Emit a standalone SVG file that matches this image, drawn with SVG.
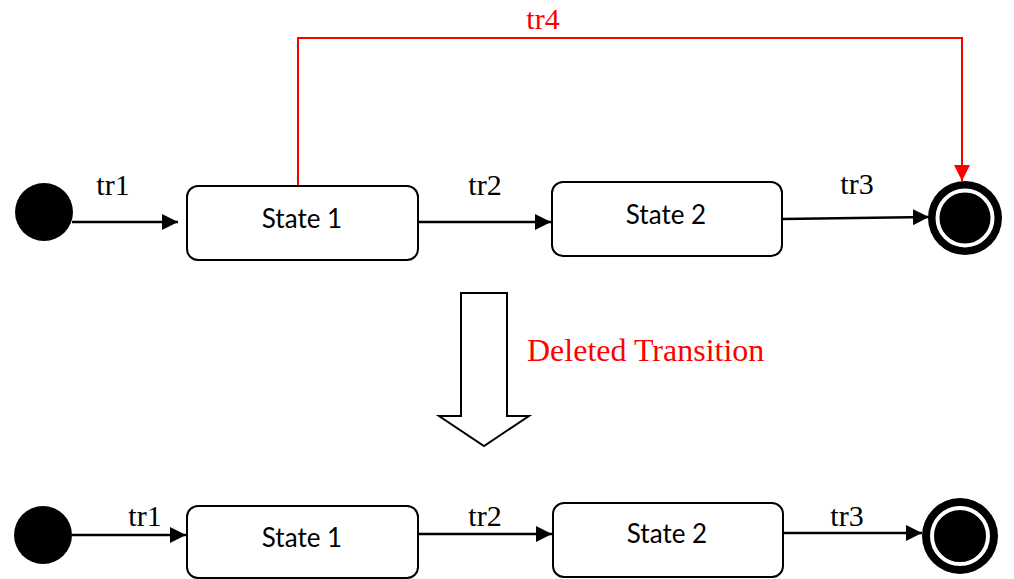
<svg xmlns="http://www.w3.org/2000/svg" width="1014" height="579" viewBox="0 0 1014 579">
<style>
.state{fill:#fff;stroke:#000;stroke-width:2}
.stxt{font-family:Lato,"Open Sans",sans-serif;font-size:26px;fill:#000;text-anchor:middle}
.lbl{font-family:"Liberation Serif","Times New Roman",serif;font-size:30px;fill:#000;text-anchor:middle}
.red{fill:#ff0000}
.conn{stroke:#000;stroke-width:2.5;fill:none}
.rconn{stroke:#ff0000;stroke-width:2;fill:none}
</style>
<defs>
<marker id="ah" viewBox="0 0 16 16" refX="16" refY="8" markerWidth="16" markerHeight="16" markerUnits="userSpaceOnUse" orient="auto">
<path d="M0,0 L16,8 L0,16 Z" fill="#000"/>
</marker>
<marker id="ahr" viewBox="0 0 16 16" refX="16" refY="8" markerWidth="16" markerHeight="16" markerUnits="userSpaceOnUse" orient="auto">
<path d="M0,0 L16,8 L0,16 Z" fill="#ff0000"/>
</marker>
</defs>
<rect width="1014" height="579" fill="#fff"/>

<g id="connectors">
<path class="conn" d="M72,222 L178,222" marker-end="url(#ah)"/>
<path class="conn" d="M418,222 L551,222" marker-end="url(#ah)"/>
<path class="conn" d="M782,219 L929,217" marker-end="url(#ah)"/>
<path class="rconn" d="M298,186 L298,38 L962,38 L962,181" marker-end="url(#ahr)"/>
<path class="conn" d="M72,535 L186,535" marker-end="url(#ah)"/>
<path class="conn" d="M418,534 L552,534" marker-end="url(#ah)"/>
<path class="conn" d="M783,533 L922,533" marker-end="url(#ah)"/>
</g>

<g id="labels">
<text class="lbl" x="113" y="195">tr1</text>
<text class="lbl" x="485" y="195">tr2</text>
<text class="lbl" x="857" y="194">tr3</text>
<text class="lbl red" x="543" y="29">tr4</text>
<text class="lbl" x="145" y="526">tr1</text>
<text class="lbl" x="485" y="526">tr2</text>
<text class="lbl" x="847" y="526">tr3</text>
</g>

<g id="init1"><circle cx="44" cy="212" r="29" fill="#000"/></g>
<g id="state1a"><rect class="state" x="187" y="186" width="231" height="74" rx="11"/><text class="stxt" x="302" y="228">State 1</text></g>
<g id="state2a"><rect class="state" x="552" y="182" width="230" height="74" rx="11"/><text class="stxt" x="666" y="224">State 2</text></g>
<g id="final1"><circle cx="965" cy="218" r="37" fill="#000"/><circle cx="965" cy="218" r="27.5" fill="none" stroke="#fff" stroke-width="4"/></g>

<g id="transform">
<path d="M461,293 L507,293 L507,416 L529,416 L484,446 L439,416 L461,416 Z" fill="#fff" stroke="#000" stroke-width="2"/>
<text x="527" y="361" font-family="Liberation Serif,'Times New Roman',serif" font-size="32" fill="#ff0000">Deleted Transition</text>
</g>

<g id="init2"><circle cx="43" cy="535" r="29" fill="#000"/></g>
<g id="state1b"><rect class="state" x="187" y="506" width="231" height="72" rx="11"/><text class="stxt" x="302" y="547">State 1</text></g>
<g id="state2b"><rect class="state" x="553" y="503" width="230" height="74" rx="11"/><text class="stxt" x="667" y="543">State 2</text></g>
<g id="final2"><circle cx="960" cy="536" r="38" fill="#000"/><circle cx="960" cy="536" r="28" fill="none" stroke="#fff" stroke-width="4"/></g>
</svg>
